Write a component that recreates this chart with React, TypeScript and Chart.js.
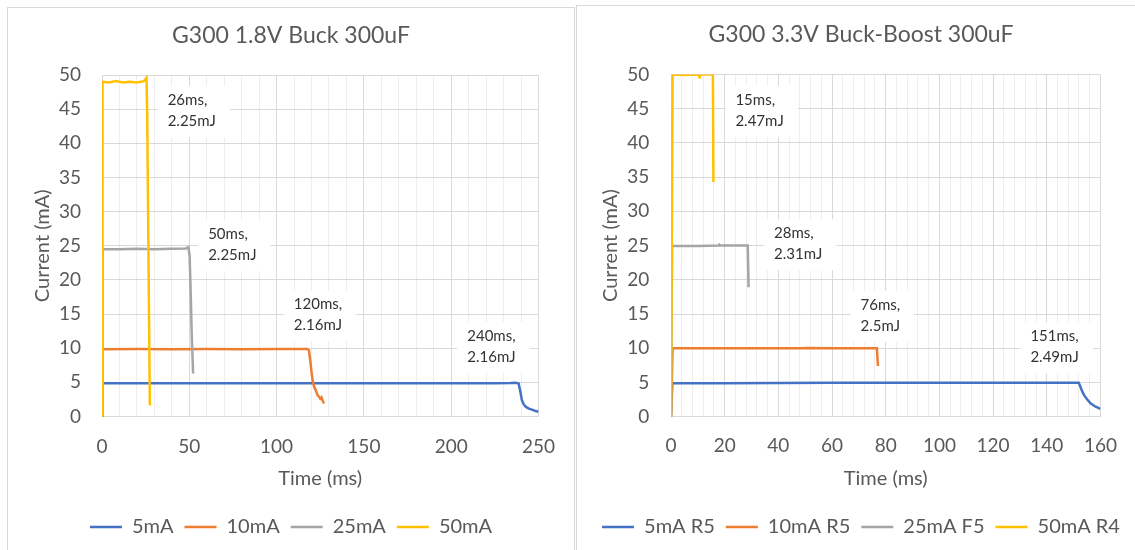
import React, { useEffect, useRef } from "react";
import { Chart, registerables } from "chart.js";

Chart.register(...registerables);

const FONT = "Lato, 'Open Sans', 'DejaVu Sans', sans-serif";
const TEXT = "#595959";
const MAJOR = "#d9d9d9";
const MINOR = "#eeeeee";

// ---------- Buck 1.8V (left) ----------
const buckLabels = ["5mA", "10mA", "25mA", "50mA"];
const buckT5 = [0, 0.3, 25, 50, 75, 100, 125, 150, 175, 200, 225, 234, 236.5, 238.6, 239.5, 240.5, 241.5, 242.8, 244.5, 246.2, 248, 250];
const buckI5 = [0, 4.85, 4.85, 4.85, 4.87, 4.85, 4.85, 4.86, 4.85, 4.86, 4.85, 4.9, 4.95, 4.85, 3.8, 2.4, 1.8, 1.4, 1.15, 1.0, 0.85, 0.7];
const buckT10 = [0, 0.3, 20, 40, 60, 80, 100, 117.5, 118.5, 119.3, 120, 120.8, 121.6, 122.5, 123.5, 124.3, 125, 125.7, 126.4, 127.2];
const buckI10 = [0, 9.85, 9.9, 9.85, 9.9, 9.85, 9.9, 9.9, 9.7, 8.2, 6.5, 5.0, 4.3, 3.8, 3.1, 2.9, 2.6, 2.8, 2.3, 1.9];
const buckT25 = [0, 0.3, 10, 20, 30, 40, 48, 49.5, 50.2, 50.8, 51.5, 52.2];
const buckI25 = [0, 24.5, 24.5, 24.55, 24.5, 24.55, 24.6, 24.8, 23.5, 18, 11, 6.3];
const buckT50 = [0, 0.3, 4, 8, 12, 16, 20, 24, 25.5, 25.9, 26.6, 27.4];
const buckI50 = [0, 49, 48.9, 49.1, 48.9, 49.0, 48.9, 49.1, 49.6, 44, 24, 1.6];
const buckNoteX = [37.6, 60.8, 109.9, 209.2];
const buckNoteY = [46.3, 26.7, 16.4, 11.8];
const buckNoteText = [["26ms,", "2.25mJ"], ["50ms,", "2.25mJ"], ["120ms,", "2.16mJ"], ["240ms,", "2.16mJ"]];

// ---------- Buck-Boost 3.3V (right) ----------
const bbLabels = ["5mA R5", "10mA R5", "25mA F5", "50mA R4"];
const bbT5 = [0, 0.5, 20, 40, 60, 80, 100, 120, 140, 151.9, 152.5, 153.2, 153.9, 155, 156.3, 158, 160];
const bbI5 = [0, 4.9, 4.9, 4.92, 4.95, 4.95, 4.97, 4.97, 4.97, 4.95, 4.4, 3.7, 3.15, 2.55, 1.95, 1.5, 1.15];
const bbT10 = [0, 0.6, 20, 40, 50, 50.3, 60, 76.7, 77.1];
const bbI10 = [0, 10, 10, 10, 10, 10.04, 10, 10, 7.4];
const bbT25 = [0, 0.4, 10, 17.8, 18, 18.3, 25, 28.6, 28.9];
const bbI25 = [0, 24.95, 24.95, 25.0, 25.12, 25.0, 25.0, 25.0, 18.9];
const bbT50 = [0, 0.6, 5, 10.4, 10.6, 10.8, 14, 15.6, 15.8];
const bbI50 = [0, 50, 49.9, 50, 49.6, 50, 50, 50, 34.3];
const bbNoteX = [24.0, 38.4, 70.6, 133.9];
const bbNoteY = [46.3, 26.8, 16.35, 11.75];
const bbNoteText = [["15ms,", "2.47mJ"], ["28ms,", "2.31mJ"], ["76ms,", "2.5mJ"], ["151ms,", "2.49mJ"]];

const COLORS = ["#4472C4", "#ED7D31", "#A5A5A5", "#FFC000"];

const notesPlugin = {
  id: "notes",
  beforeDatasetsDraw(chart: any, _args: any, opts: any) {
    const { ctx } = chart;
    const xs = chart.scales.x;
    const ys = chart.scales.y;
    const xv: number[] = opts.x || [];
    const yv: number[] = opts.y || [];
    const tv: string[][] = opts.text || [];
    const lh = 21;
    ctx.save();
    ctx.font = `15px ${FONT}`;
    for (let i = 0; i < xv.length; i++) {
      const px = xs.getPixelForValue(xv[i]);
      const py = ys.getPixelForValue(yv[i]);
      const lines = tv[i];
      const w = Math.max(...lines.map((l) => ctx.measureText(l).width));
      ctx.fillStyle = "#ffffff";
      ctx.fillRect(px - 10, py - 14, w + 24, lh * (lines.length - 1) + 30);
      ctx.fillStyle = "#333333";
      ctx.textBaseline = "middle";
      ctx.textAlign = "left";
      lines.forEach((l, k) => ctx.fillText(l, px, py + k * lh));
    }
    ctx.restore();
  },
};

function makeConfig(p: any) {
  const datasets = p.labels.map((label: string, i: number) => ({
    label,
    data: p.times[i].map((t: number, k: number) => ({ x: t, y: p.values[i][k] })),
    borderColor: COLORS[i],
    backgroundColor: COLORS[i],
    borderWidth: 2.5,
    pointRadius: 0,
    tension: 0,
    fill: false,
    order: p.labels.length - i,
    xAxisID: "x",
    yAxisID: "y",
  }));
  return {
    type: "line",
    data: { datasets },
    plugins: [notesPlugin],
    options: {
      responsive: false,
      animation: false,
      devicePixelRatio: 1,
      events: [],
      layout: { padding: { left: p.padLeft, right: 0, top: 0, bottom: 3 } },
      plugins: {
        title: {
          display: true,
          text: p.title,
          color: TEXT,
          font: { family: FONT, size: 23, weight: "normal" },
          padding: { top: p.titleTop, bottom: p.titleBottom },
        },
        legend: {
          position: "bottom",
          labels: {
            usePointStyle: true,
            pointStyle: "line",
            pointStyleWidth: 32,
            padding: 11,
            color: TEXT,
            font: { family: FONT, size: 20 },
            sort: (a: any, b: any) => a.datasetIndex - b.datasetIndex,
          },
        },
        tooltip: { enabled: false },
        notes: { x: p.noteX, y: p.noteY, text: p.noteText },
      },
      scales: {
        x: {
          type: "linear",
          position: "bottom",
          min: 0,
          max: p.xMax,
          ticks: {
            stepSize: p.xMinor,
            autoSkip: false,
            maxRotation: 0,
            padding: p.xTickPad,
            color: TEXT,
            font: { family: FONT, size: 19 },
            callback: (v: number) => (Math.round(v) % p.xMajor === 0 ? String(Math.round(v)) : ""),
          },
          grid: {
            drawTicks: false,
            lineWidth: 1,
            color: (c: any) => (c.tick && Math.round(c.tick.value) % p.xMajor === 0 ? MAJOR : MINOR),
          },
          border: { display: false },
          title: {
            display: true,
            text: "Time (ms)",
            color: TEXT,
            font: { family: FONT, size: 20 },
            padding: { top: 0, bottom: p.xTitlePad },
          },
          afterFit: (s: any) => {
            s.height = p.xHeight;
          },
        },
        y: {
          type: "linear",
          position: "left",
          min: 0,
          max: 50,
          ticks: {
            stepSize: 5,
            padding: p.yTickPad,
            color: TEXT,
            font: { family: FONT, size: 19 },
          },
          grid: { drawTicks: false, lineWidth: 1, color: MAJOR },
          border: { display: false },
          title: {
            display: true,
            text: "Current (mA)",
            color: TEXT,
            font: { family: FONT, size: 20 },
            padding: { top: p.yTitlePad, bottom: 0 },
          },
          afterFit: (s: any) => {
            s.width = p.yWidth;
          },
        },
        pad: {
          type: "linear",
          position: "right",
          display: true,
          grid: { display: false },
          ticks: { display: false },
          border: { display: false },
          afterFit: (s: any) => {
            s.width = p.padRight;
          },
        },
      },
    },
  };
}

const leftParams = {
  title: "G300 1.8V Buck 300uF",
  labels: buckLabels,
  times: [buckT5, buckT10, buckT25, buckT50],
  values: [buckI5, buckI10, buckI25, buckI50],
  noteX: buckNoteX,
  noteY: buckNoteY,
  noteText: buckNoteText,
  xMax: 250,
  xMinor: 10,
  xMajor: 50,
  padLeft: 0,
  padRight: 34,
  yWidth: 94,
  yTitlePad: 22.5,
  yTickPad: 21,
  xHeight: 89.5,
  xTickPad: 19,
  xTitlePad: 15,
  titleTop: 13.8,
  titleBottom: 25.6,
};

const rightParams = {
  title: "G300 3.3V Buck-Boost 300uF",
  labels: bbLabels,
  times: [bbT5, bbT10, bbT25, bbT50],
  values: [bbI5, bbI10, bbI25, bbI50],
  noteX: bbNoteX,
  noteY: bbNoteY,
  noteText: bbNoteText,
  xMax: 160,
  xMinor: 4,
  xMajor: 20,
  padLeft: 10,
  padRight: 25,
  yWidth: 84,
  yTitlePad: 11.7,
  yTickPad: 21.7,
  xHeight: 89.3,
  xTickPad: 18,
  xTitlePad: 15.2,
  titleTop: 14.7,
  titleBottom: 26.1,
};

function ChartBox({ params, w, h, style }: any) {
  const ref = useRef<HTMLCanvasElement | null>(null);
  useEffect(() => {
    if (!ref.current) return;
    const chart = new Chart(ref.current, makeConfig(params) as any);
    return () => chart.destroy();
  }, []);
  return (
    <div style={style}>
      <canvas ref={ref} width={w} height={h} style={{ display: "block", width: w, height: h }} />
    </div>
  );
}

export default function App() {
  return (
    <div
      style={{
        position: "fixed",
        left: 0,
        top: 0,
        width: 1135,
        height: 550,
        background: "#ffffff",
        overflow: "hidden",
      }}
    >
      <ChartBox
        params={leftParams}
        w={566}
        h={542}
        style={{
          position: "absolute",
          left: 7,
          top: 7,
          width: 566,
          height: 542,
          borderTop: "1px solid #d9d9d9",
          borderLeft: "1px solid #d9d9d9",
          borderRight: "1px solid #d9d9d9",
        }}
      />
      <ChartBox
        params={rightParams}
        w={558}
        h={544}
        style={{
          position: "absolute",
          left: 576,
          top: 5,
          width: 558,
          height: 544,
          borderTop: "1px solid #d9d9d9",
          borderLeft: "1px solid #d9d9d9",
        }}
      />
    </div>
  );
}
